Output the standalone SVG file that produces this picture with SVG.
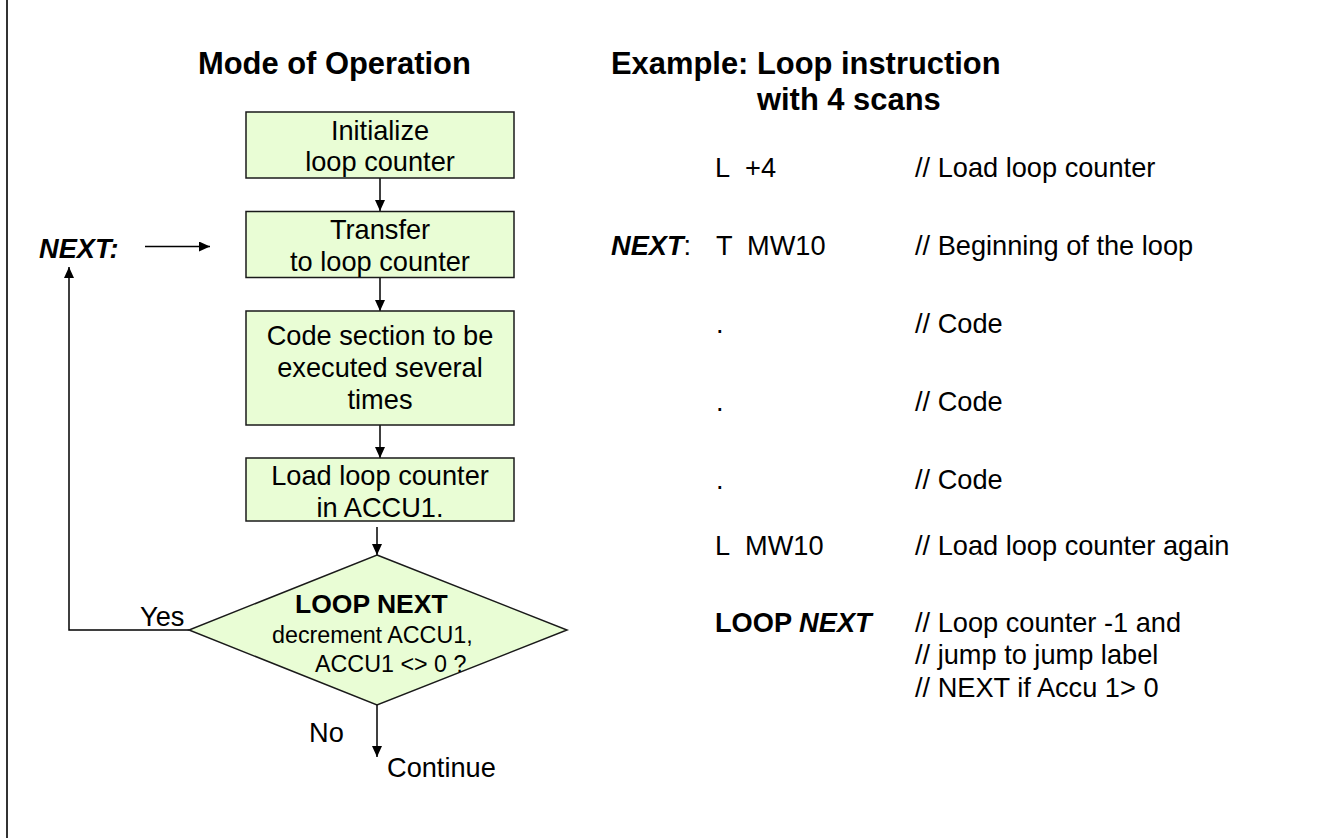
<svg xmlns="http://www.w3.org/2000/svg" width="1319" height="838" viewBox="0 0 1319 838">
<style>
text{font-family:"Liberation Sans",Arial,sans-serif;fill:#000}
.t{font-size:30.9px;font-weight:bold}
.b{font-size:27.2px}
.c{text-anchor:middle}
.d{font-size:26.5px;font-weight:bold}
.s{font-size:23.3px}
.bi{font-weight:bold;font-style:italic}
.bo{font-weight:bold}
.box{fill:#e9fdd5;stroke:#1a1a1a;stroke-width:1.5}
.ln{fill:none;stroke:#000;stroke-width:1.5}
</style>
<defs>
<marker id="ah" viewBox="0 0 10 10" refX="10" refY="5" markerWidth="11" markerHeight="10" preserveAspectRatio="none" markerUnits="userSpaceOnUse" orient="auto">
<path d="M0,0 L10,5 L0,10 z" fill="#000"/>
</marker>
</defs>
<rect width="1319" height="838" fill="#fff"/>
<line x1="7" y1="0" x2="7" y2="838" stroke="#333" stroke-width="2"/>

<text class="t" x="198" y="74">Mode of Operation</text>
<text class="t" x="611" y="74">Example: Loop instruction</text>
<text class="t" x="757" y="110">with 4 scans</text>

<g id="connectors">
<line class="ln" x1="380" y1="178" x2="380" y2="211" marker-end="url(#ah)"/>
<line class="ln" x1="380" y1="277" x2="380" y2="311" marker-end="url(#ah)"/>
<line class="ln" x1="380" y1="425" x2="380" y2="458" marker-end="url(#ah)"/>
<line class="ln" x1="377" y1="527" x2="377" y2="555" marker-end="url(#ah)"/>
<line class="ln" x1="377" y1="705" x2="377" y2="757" marker-end="url(#ah)"/>
<polyline class="ln" points="189,630 69,630 69,267" marker-end="url(#ah)"/>
<line class="ln" x1="145" y1="246.5" x2="210" y2="246.5" marker-end="url(#ah)"/>
</g>

<g id="n1">
<rect class="box" x="246" y="112" width="268" height="66"/>
<text class="b c" x="380" y="140">Initialize</text>
<text class="b c" x="380" y="171">loop counter</text>
</g>
<g id="n2">
<rect class="box" x="246" y="211.5" width="268" height="66"/>
<text class="b c" x="380" y="239">Transfer</text>
<text class="b c" x="380" y="271">to loop counter</text>
</g>
<g id="n3">
<rect class="box" x="246" y="311" width="268" height="114"/>
<text class="b c" x="380" y="345">Code section to be</text>
<text class="b c" x="380" y="377">executed several</text>
<text class="b c" x="380" y="409">times</text>
</g>
<g id="n4">
<rect class="box" x="246" y="458" width="268" height="63"/>
<text class="b c" x="380" y="485">Load loop counter</text>
<text class="b c" x="380" y="517">in ACCU1.</text>
</g>
<g id="n5">
<polygon class="box" points="377,555 567,630 377,705 189,630"/>
<text class="d" x="295" y="613">LOOP NEXT</text>
<text class="s" x="272" y="643">decrement ACCU1,</text>
<text class="s" x="315" y="672">ACCU1 &lt;&gt; 0 ?</text>
</g>

<g id="labels">
<text class="b bi" x="39" y="258">NEXT:</text>
<text class="b" x="140" y="626">Yes</text>
<text class="b" x="309" y="742">No</text>
<text class="b" x="387" y="777">Continue</text>
</g>

<g id="code">
<text class="b" x="715" y="177">L</text><text class="b" x="745" y="177">+4</text>
<text class="b" x="915" y="177">// Load loop counter</text>
<text class="b" x="611" y="255"><tspan class="bi">NEXT</tspan>:</text>
<text class="b" x="716" y="255">T</text><text class="b" x="747" y="255">MW10</text>
<text class="b" x="915" y="255">// Beginning of the loop</text>
<text class="b" x="716" y="333">.</text><text class="b" x="915" y="333">// Code</text>
<text class="b" x="716" y="411">.</text><text class="b" x="915" y="411">// Code</text>
<text class="b" x="716" y="489">.</text><text class="b" x="915" y="489">// Code</text>
<text class="b" x="715" y="555">L</text><text class="b" x="745" y="555">MW10</text>
<text class="b" x="915" y="555">// Load loop counter again</text>
<text class="b" x="715" y="632"><tspan class="bo">LOOP </tspan><tspan class="bi">NEXT</tspan></text>
<text class="b" x="915" y="632">// Loop counter -1 and</text>
<text class="b" x="915" y="664">// jump to jump label</text>
<text class="b" x="915" y="697">// NEXT if Accu 1&gt; 0</text>
</g>
</svg>
